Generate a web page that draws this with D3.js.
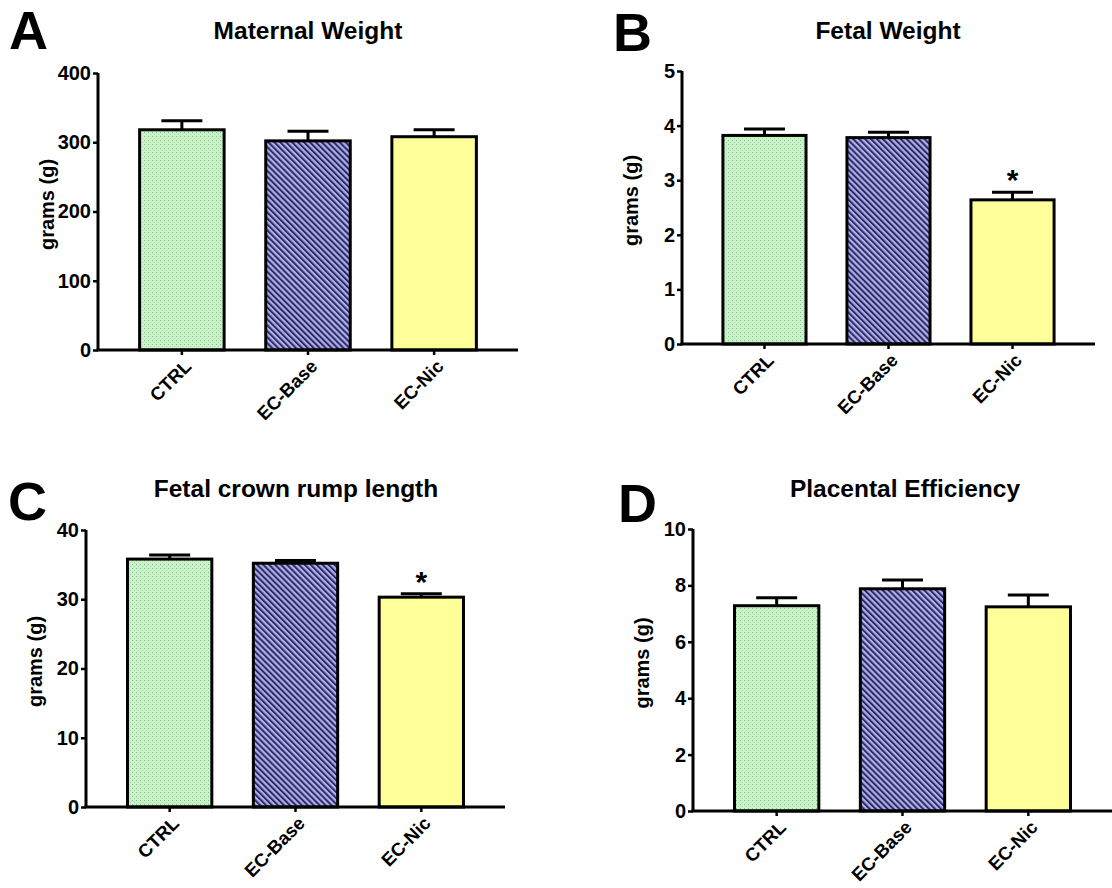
<!DOCTYPE html>
<html><head><meta charset="utf-8">
<script src="https://cdn.jsdelivr.net/npm/d3@7"></script>
<style>
html,body{margin:0;padding:0;background:#fff;}
svg{display:block;font-family:"Liberation Sans",Arial,Helvetica,sans-serif;font-weight:bold;}
</style></head>
<body>
<svg id="chart" width="1112" height="888"></svg>
<script>
// ---- data ----
const categories = ["CTRL", "EC-Base", "EC-Nic"];
const panelLetters = ["A", "B", "C", "D"];
const panelTitles = ["Maternal Weight", "Fetal Weight", "Fetal crown rump length", "Placental Efficiency"];
const yLabel = "grams (g)";
const maternalMean = [318, 302, 308];
const maternalSE = [13, 14, 10];
const fetalMean = [3.82, 3.78, 2.64];
const fetalSE = [0.12, 0.10, 0.14];
const crlMean = [35.8, 35.2, 30.3];
const crlSE = [0.6, 0.4, 0.5];
const effMean = [7.28, 7.88, 7.24];
const effSE = [0.28, 0.31, 0.42];
const yMax = [400, 5, 40, 10];
const yTicks = [[0,100,200,300,400],[0,1,2,3,4,5],[0,10,20,30,40],[0,2,4,6,8,10]];
const significant = [[], [2], [2], []];
const means = [maternalMean, fetalMean, crlMean, effMean];
const ses = [maternalSE, fetalSE, crlSE, effSE];

// ---- layout ----
const layout = [
  {x0: 98, x1: 518, yTop: 73, yBot: 350, letterX: 9, letterY: 49, titleX: 308, titleY: 39},
  {x0: 682, x1: 1095, yTop: 71, yBot: 344, letterX: 613, letterY: 51, titleX: 888, titleY: 39},
  {x0: 86, x1: 505, yTop: 530, yBot: 807, letterX: 8, letterY: 520, titleX: 296, titleY: 497},
  {x0: 693, x1: 1112, yTop: 529, yBot: 811, letterX: 618, letterY: 522, titleX: 905, titleY: 497}
];

const svg = d3.select("#chart");
const defs = svg.append("defs");
// green dotted pattern
const pg = defs.append("pattern").attr("id","pGreen").attr("patternUnits","userSpaceOnUse")
  .attr("width",4).attr("height",4);
pg.append("rect").attr("width",4).attr("height",4).attr("fill","#c9f4c9");
pg.append("rect").attr("x",0).attr("y",0).attr("width",1).attr("height",1).attr("fill","#86b886");
pg.append("rect").attr("x",2).attr("y",2).attr("width",1).attr("height",1).attr("fill","#a6d4a6");
// blue diagonal stripes (top-left to bottom-right)
const pb = defs.append("pattern").attr("id","pBlue").attr("patternUnits","userSpaceOnUse")
  .attr("width",4.2).attr("height",4.2).attr("patternTransform","rotate(-45)");
pb.append("rect").attr("width",4.2).attr("height",4.2).attr("fill","#aeaef0");
pb.append("rect").attr("x",0).attr("width",2).attr("height",4.2).attr("fill","#2b2b5e");
const fills = ["url(#pGreen)", "url(#pBlue)", "#ffff9a"];

layout.forEach((L, i) => {
  const g = svg.append("g");
  const x = d3.scaleBand().domain(categories).range([L.x0, L.x1]).paddingInner(0.33).paddingOuter(0.33);
  const y = d3.scaleLinear().domain([0, yMax[i]]).range([L.yBot, L.yTop]);
  const data = categories.map((c, j) => ({c, m: means[i][j], se: ses[i][j], j}));

  // panel letter
  g.append("text").attr("x", L.letterX).attr("y", L.letterY)
    .attr("font-size", 54).attr("font-weight","bold").text(panelLetters[i]);
  // title
  g.append("text").attr("x", L.titleX).attr("y", L.titleY).attr("text-anchor","middle")
    .attr("font-size", 24.5).text(panelTitles[i]);

  // bars
  g.selectAll(".bar").data(data).enter().append("rect")
    .attr("x", d => x(d.c)).attr("width", x.bandwidth())
    .attr("y", d => y(d.m)).attr("height", d => y(0) - y(d.m))
    .attr("fill", d => fills[d.j]).attr("stroke","#000").attr("stroke-width",3);

  // error bars
  const cap = 41;
  data.forEach(d => {
    const cx = x(d.c) + x.bandwidth()/2;
    g.append("line").attr("x1",cx).attr("x2",cx).attr("y1",y(d.m)).attr("y2",y(d.m+d.se))
      .attr("stroke","#000").attr("stroke-width",3);
    g.append("line").attr("x1",cx-cap/2).attr("x2",cx+cap/2).attr("y1",y(d.m+d.se)).attr("y2",y(d.m+d.se))
      .attr("stroke","#000").attr("stroke-width",3);
    if (significant[i].includes(d.j)) {
      g.append("text").attr("x",cx).attr("y",y(d.m+d.se)-2).attr("text-anchor","middle")
        .attr("font-size",30).text("*");
    }
  });

  // y axis
  const ya = g.append("g").attr("transform",`translate(${L.x0},0)`)
    .call(d3.axisLeft(y).tickValues(yTicks[i]).tickFormat(d3.format("d")).tickSize(5).tickPadding(2).tickSizeOuter(0));
  ya.select(".domain").attr("stroke-width",3).attr("d", `M0,${L.yTop}V${L.yBot}`);
  ya.selectAll(".tick line").attr("stroke-width",2.5);
  ya.selectAll(".tick text").attr("font-size",20).attr("font-family","Liberation Sans, Arial, sans-serif")
    .attr("font-weight","bold").attr("fill","#000");

  // x axis
  const xa = g.append("g").attr("transform",`translate(0,${L.yBot})`)
    .call(d3.axisBottom(x).tickSize(5).tickSizeOuter(0).tickPadding(0));
  xa.select(".domain").attr("stroke-width",3).attr("d", `M${L.x0-1.5},0H${L.x1}`);
  xa.selectAll(".tick line").attr("stroke-width",2.5);
  xa.selectAll(".tick text").attr("font-size",18.5).attr("font-family","Liberation Sans, Arial, sans-serif")
    .attr("font-weight","bold").attr("fill","#000")
    .attr("text-anchor","end").attr("dy",0)
    .attr("transform","translate(7,14) rotate(-45)");

  // y label
  g.append("text").attr("transform",`translate(${L.x0-44},${(L.yTop+L.yBot)/2 - 7}) rotate(-90)`)
    .attr("text-anchor","middle").attr("font-size",20).text(yLabel);
});
</script>
</body></html>
